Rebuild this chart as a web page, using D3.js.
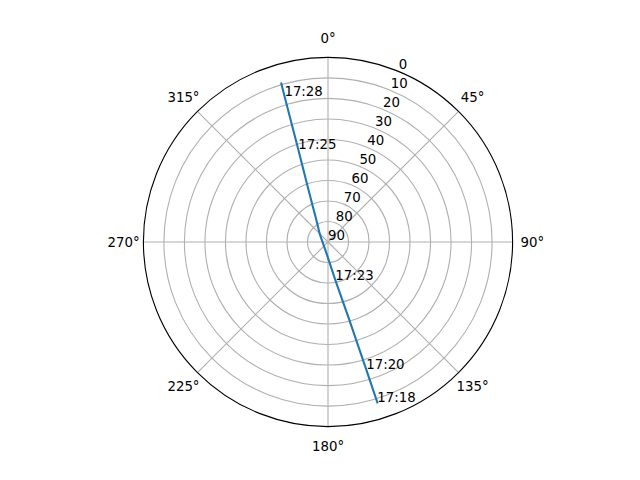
<!DOCTYPE html>
<html>
<head>
<meta charset="utf-8">
<script src="https://cdn.jsdelivr.net/npm/d3@7"></script>
<style>
  html, body { margin: 0; padding: 0; background: #ffffff; }
  svg { display: block; }
  text { font-family: "DejaVu Sans", sans-serif; font-size: 13.33px; fill: #000; }
</style>
</head>
<body>
<script>
// ---- data ----
const azimuth   = [162.9, 163.3, 164.7, 169.1, 184.4, 255.4, 311.5, 332.0, 339.5, 342.2, 343.4, 343.6];
const elevation = [8.2,   25.2,  50.6,  71.1,  83.7,  87.5,  84.8,  77.9,  62.9,  42.4,  15.6,  9.4];
const timeLabels = ["17:18", "17:20", "", "17:23", "", "", "", "", "", "17:25", "17:28", ""];
const thetaTicks = [0, 45, 90, 135, 180, 225, 270, 315];
const thetaTickLabels = ["0°", "45°", "90°", "135°", "180°", "225°", "270°", "315°"];
const rTicks = [0, 10, 20, 30, 40, 50, 60, 70, 80, 90];

// ---- layout ----
const W = 640, H = 480;
const cx = 328, cy = 242, R = 184.6;

const svg = d3.select("body").append("svg").attr("width", W).attr("height", H);
const g = svg.append("g").attr("transform", `translate(${cx},${cy})`);

const rScale = d3.scaleLinear().domain([90, 0]).range([0, R]);
const aScale = d3.scaleLinear().domain([0, 360]).range([0, 2 * Math.PI]);

const gridColor = "#b0b0b0";
const gridW = 1.11;

// radial rings
g.append("g").selectAll("circle")
  .data(rTicks.filter(v => v !== 90 && v !== 0))
  .join("circle")
  .attr("r", d => rScale(d))
  .attr("fill", "none")
  .attr("stroke", gridColor)
  .attr("stroke-width", gridW);

// angular gridlines
g.append("g").selectAll("line")
  .data(thetaTicks)
  .join("line")
  .attr("x1", 0).attr("y1", 0)
  .attr("x2", d => R * Math.sin(aScale(d)))
  .attr("y2", d => -R * Math.cos(aScale(d)))
  .attr("stroke", gridColor)
  .attr("stroke-width", gridW);

// clip
svg.append("clipPath").attr("id", "clip")
  .append("circle").attr("cx", cx).attr("cy", cy).attr("r", R);

// pass line
const pts = azimuth.map((a, i) => ({ az: a, el: elevation[i], t: timeLabels[i] }));
const line = d3.lineRadial()
  .angle(d => aScale(d.az))
  .radius(d => rScale(d.el));

svg.append("g").attr("clip-path", "url(#clip)")
  .append("path")
  .attr("transform", `translate(${cx},${cy})`)
  .attr("d", line(pts))
  .attr("fill", "none")
  .attr("stroke", "#1f77b4")
  .attr("stroke-width", 2.08)
  .attr("stroke-linejoin", "round")
  .attr("stroke-linecap", "square");

// outer spine
g.append("circle")
  .attr("r", R)
  .attr("fill", "none")
  .attr("stroke", "#000")
  .attr("stroke-width", 1.11);

// time annotations
g.append("g").selectAll("text")
  .data(pts.filter(d => d.t !== ""))
  .join("text")
  .attr("x", d => rScale(d.el) * Math.sin(aScale(d.az)))
  .attr("y", d => -rScale(d.el) * Math.cos(aScale(d.az)))
  .attr("text-anchor", "start")
  .text(d => d.t);

// radial tick labels at 22.5°
const rLabAng = aScale(22.5);
g.append("g").selectAll("text")
  .data(rTicks)
  .join("text")
  .attr("x", d => rScale(d) * Math.sin(rLabAng))
  .attr("y", d => -rScale(d) * Math.cos(rLabAng) - 2.5)
  .attr("text-anchor", "start")
  .text(d => d);

// angular tick labels
const pad = 19.8;
g.append("g").selectAll("text")
  .data(thetaTicks)
  .join("text")
  .attr("x", d => (R + pad) * Math.sin(aScale(d)))
  .attr("y", d => -(R + pad) * Math.cos(aScale(d)) + 4.9)
  .attr("text-anchor", "middle")
  .text((d, i) => thetaTickLabels[i]);
</script>
</body>
</html>
